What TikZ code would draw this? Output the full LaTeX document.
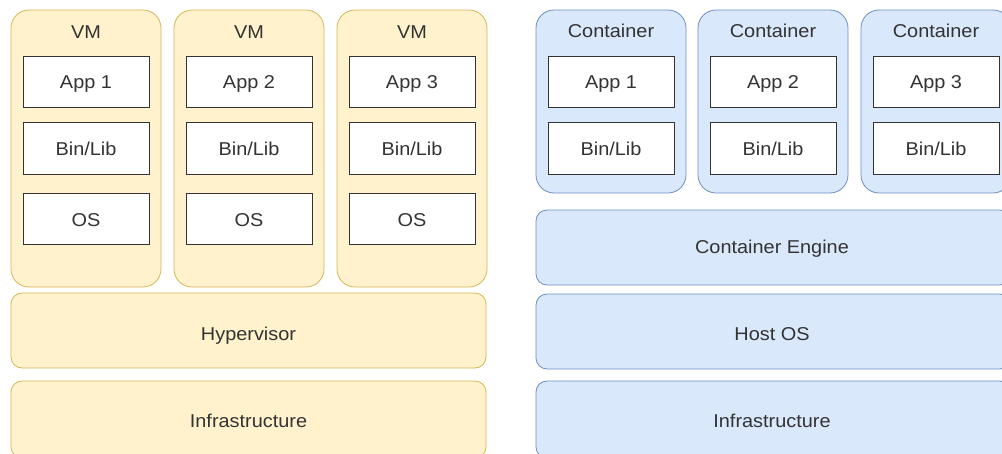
\documentclass[tikz,border=0pt]{standalone}
\usepackage{fontspec}
\setmainfont{Liberation Sans}[FakeStretch=1.07]
\definecolor{yfill}{HTML}{FFF2CC}
\definecolor{ydraw}{HTML}{D6B656}
\definecolor{bfill}{HTML}{DAE8FC}
\definecolor{bdraw}{HTML}{6C8EBF}
\definecolor{txt}{HTML}{333333}
\begin{document}
\begin{tikzpicture}[x=1pt,y=-1pt,
  every node/.style={font=\fontsize{18.6}{22}\selectfont, text=txt, anchor=base, inner sep=0pt},
  vmbox/.style={fill=yfill, draw=ydraw, line width=0.8pt, rounded corners=18pt},
  ylayer/.style={fill=yfill, draw=ydraw, line width=0.8pt, rounded corners=11pt},
  ctbox/.style={fill=bfill, draw=bdraw, line width=0.8pt, rounded corners=18pt},
  blayer/.style={fill=bfill, draw=bdraw, line width=0.8pt, rounded corners=11pt},
  inbox/.style={fill=white, draw=txt, line width=0.9pt}]
\useasboundingbox (0,0) rectangle (1002,453);
\clip (0,0) rectangle (1002,453);
% VMs
\foreach \i/\x in {1/11,2/174,3/337}{
  \draw[vmbox] (\x,10) rectangle (\x+150,287);
  \node (vm\i) at (\x+75,38.5) {VM};
  \draw[inbox] (\x+12,56) rectangle (\x+138,107);
  \node (vapp\i) at (\x+75,88.5) {App \i};
  \draw[inbox] (\x+12,122) rectangle (\x+138,174);
  \node (vbin\i) at (\x+75,155.5) {Bin/Lib};
  \draw[inbox] (\x+12,193) rectangle (\x+138,244);
  \node (vos\i) at (\x+75,226) {OS};
}
\draw[ylayer] (11,293) rectangle (486,368);
\node (hyp) at (248.5,340) {Hypervisor};
\draw[ylayer] (11,381) rectangle (486,458);
\node (vinf) at (248.5,427) {Infrastructure};
% Containers
\foreach \i/\x in {1/536,2/698,3/861}{
  \draw[ctbox] (\x,10) rectangle (\x+150,193);
  \node (ct\i) at (\x+75,37.5) {Container};
  \draw[inbox] (\x+12,56) rectangle (\x+138,107);
  \node (capp\i) at (\x+75,88.5) {App \i};
  \draw[inbox] (\x+12,122) rectangle (\x+138,174);
  \node (cbin\i) at (\x+75,155.5) {Bin/Lib};
}
\draw[blayer] (536,210) rectangle (1011,285);
\node (eng) at (772,253.5) {Container Engine};
\draw[blayer] (536,294) rectangle (1011,369);
\node (host) at (772,340) {Host OS};
\draw[blayer] (536,381) rectangle (1011,458);
\node (cinf) at (772,427) {Infrastructure};
\end{tikzpicture}
\end{document}
